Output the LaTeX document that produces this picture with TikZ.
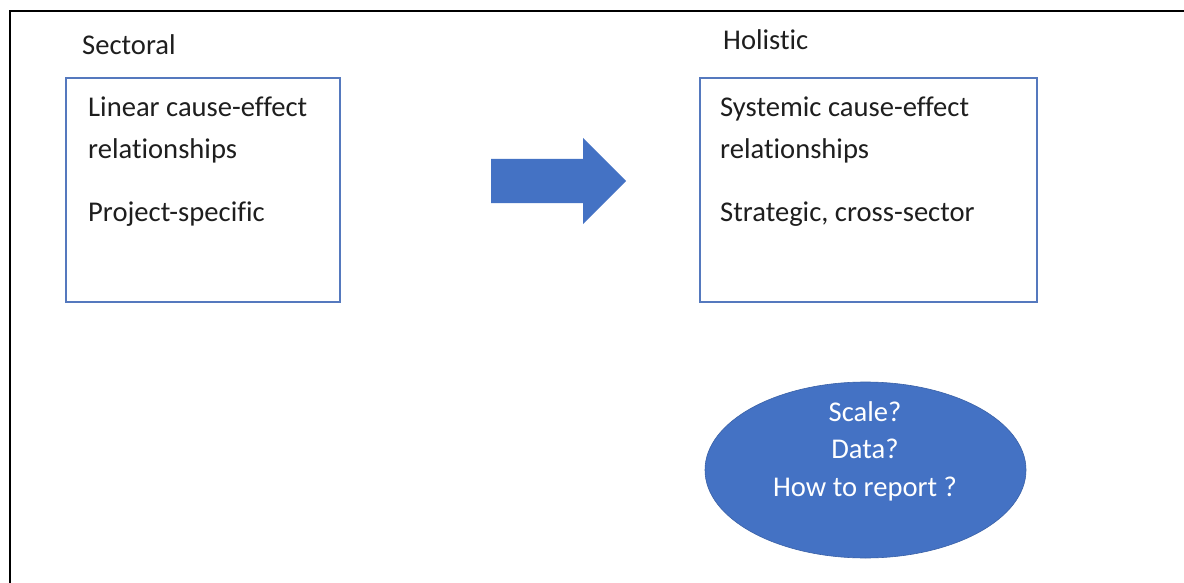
\documentclass[tikz,border=0pt]{standalone}
\usepackage{fontspec}
\setmainfont{Carlito}[Ligatures=NoCommon]
\usetikzlibrary{shapes.geometric}
\definecolor{accent}{HTML}{4472C4}
\definecolor{boxline}{HTML}{5579BE}
\definecolor{txt}{HTML}{1E1E1E}
\begin{document}
\begin{tikzpicture}[x=1pt,y=-1pt,
  lbl/.style={anchor=base west,inner sep=0pt,text=txt,font=\fontsize{28.6}{34}\selectfont},
  wlbl/.style={anchor=base,inner sep=0pt,text=white,font=\fontsize{28.6}{34}\selectfont},
  panel/.style={draw=boxline,line width=1.6pt,rectangle,inner sep=0pt,fill=white},
  frame/.style={line width=2.2pt,draw=black}]
\useasboundingbox (0,0) rectangle (1184,583);
\fill[white] (0,0) rectangle (1184,583);
\draw[frame] (1184,11) -- (10,11) -- (10,583);

% left panel
\node[panel,minimum width=274pt,minimum height=224pt] (left) at (203,190) {};
\node[lbl] (sec) at (82,55) {Sectoral};
\node[lbl] (l1) at (88,117) {Linear cause-effect};
\node[lbl] (l2) at (88,159) {relationships};
\node[lbl] (l3) at (88,222) {Project-specific};

% right panel
\node[panel,minimum width=337pt,minimum height=224pt] (right) at (868.5,190) {};
\node[lbl] (hol) at (723,50) {Holistic};
\node[lbl] (r1) at (720,117) {Systemic cause-effect};
\node[lbl] (r2) at (720,159) {relationships};
\node[lbl] (r3) at (720,221) {Strategic, cross-sector};

% block arrow
\fill[accent] (491,159) -- (583,159) -- (583,138) -- (626,181) -- (583,224) -- (583,203) -- (491,203) -- cycle;

% ellipse
\node[ellipse,fill=accent,draw=accent!85!black,line width=0.6pt,minimum width=321pt,minimum height=176pt,inner sep=0pt] (q) at (865.5,470) {};
\node[wlbl] (q1) at (865,421) {Scale?};
\node[wlbl] (q2) at (865,458) {Data?};
\node[wlbl] (q3) at (865,496) {How to report ?};
\end{tikzpicture}
\end{document}
